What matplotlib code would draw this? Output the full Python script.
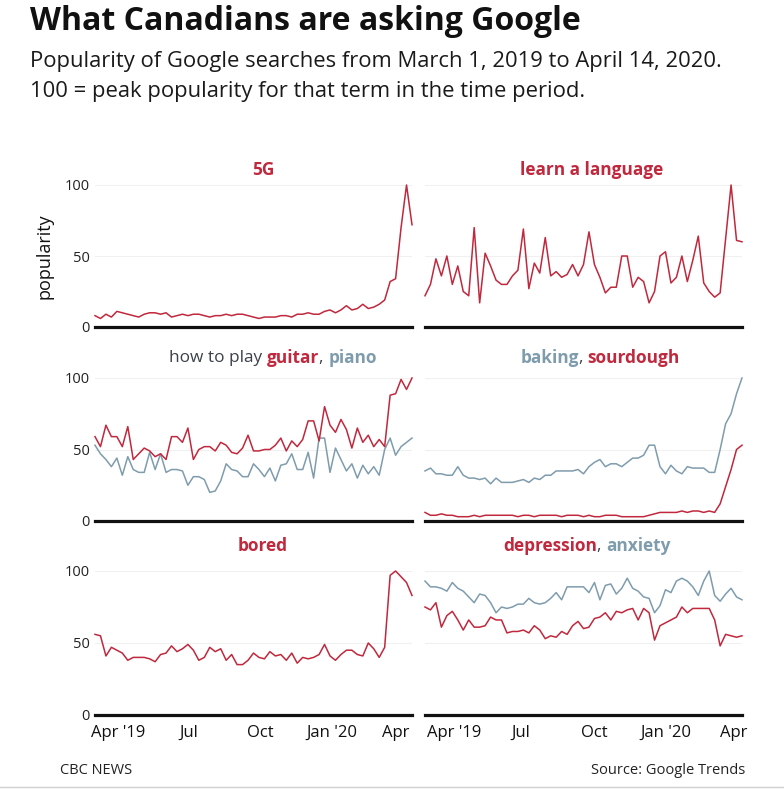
import matplotlib
matplotlib.use("Agg")
import matplotlib.pyplot as plt
import matplotlib.transforms as mtransforms
import pandas as pd
import numpy as np

plt.rcParams['font.family'] = ['Open Sans', 'DejaVu Sans']

# ---------------- data (weekly, Google Trends, Canada) ----------------
dates = pd.date_range('2019-03-03', periods=59, freq='W-SUN')

fiveg = [8, 6, 9, 7, 11, 10, 9, 8, 7, 9, 10, 10, 9, 10, 7, 8, 9, 8, 9, 9,
         8, 7, 8, 8, 9, 8, 9, 9, 8, 7, 6, 7, 7, 7, 8, 8, 7, 9, 9, 10,
         9, 9, 11, 12, 10, 12, 15, 12, 13, 16, 13, 14, 16, 19, 32, 34, 70, 100, 72]

learn_language = [22, 30, 48, 36, 50, 30, 43, 25, 22, 70, 17, 52, 43, 33, 30, 30, 36, 40, 69, 27,
                  45, 38, 63, 36, 39, 35, 37, 44, 36, 44, 67, 44, 35, 24, 28, 28, 50, 50, 28, 35,
                  32, 17, 25, 50, 53, 31, 35, 50, 32, 47, 64, 31, 25, 21, 24, 62, 100, 61, 60]

guitar = [59, 52, 67, 59, 59, 52, 66, 43, 47, 51, 49, 45, 47, 43, 59, 59, 55, 65, 43, 50,
          52, 52, 49, 55, 53, 48, 47, 51, 60, 49, 49, 50, 50, 53, 58, 49, 56, 52, 57, 70,
          70, 56, 80, 67, 62, 71, 64, 51, 65, 55, 60, 52, 57, 52, 88, 89, 99, 92, 100]

piano = [53, 47, 43, 38, 44, 32, 45, 36, 34, 34, 48, 36, 47, 34, 36, 36, 35, 25, 31, 31,
         29, 20, 21, 28, 40, 36, 35, 31, 31, 40, 36, 31, 37, 28, 39, 40, 47, 36, 36, 48,
         30, 58, 58, 34, 51, 43, 35, 40, 30, 39, 33, 38, 32, 50, 58, 46, 52, 55, 58]

baking = [35, 37, 33, 33, 32, 32, 38, 32, 30, 30, 29, 30, 26, 30, 27, 27, 27, 28, 29, 27,
          30, 29, 32, 32, 35, 35, 35, 35, 36, 33, 38, 41, 43, 38, 40, 40, 38, 41, 44, 44,
          46, 53, 53, 38, 33, 39, 35, 33, 38, 37, 37, 37, 34, 34, 50, 68, 75, 89, 100]

sourdough = [6, 4, 4, 5, 4, 4, 3, 3, 3, 4, 3, 4, 4, 4, 4, 4, 4, 3, 4, 4,
             3, 4, 4, 4, 4, 3, 4, 4, 4, 3, 4, 3, 3, 4, 4, 4, 3, 3, 3, 3,
             3, 4, 5, 6, 6, 6, 6, 7, 6, 7, 7, 6, 7, 6, 12, 24, 36, 50, 53]

bored = [56, 55, 41, 47, 45, 43, 38, 40, 40, 40, 39, 37, 42, 43, 48, 44, 46, 49, 45, 38,
         40, 47, 44, 46, 38, 42, 35, 35, 38, 43, 40, 39, 44, 41, 42, 38, 43, 36, 40, 39,
         40, 42, 49, 41, 38, 42, 45, 45, 42, 41, 50, 46, 40, 47, 97, 100, 96, 92, 83]

anxiety = [93, 89, 89, 88, 86, 92, 88, 86, 82, 78, 84, 83, 78, 71, 75, 74, 75, 77, 77, 81,
           78, 77, 78, 81, 85, 80, 89, 89, 89, 89, 85, 92, 80, 90, 91, 84, 88, 95, 88, 86,
           82, 81, 71, 76, 87, 85, 93, 95, 93, 89, 83, 93, 100, 83, 79, 84, 88, 82, 80]

depression = [75, 73, 78, 61, 69, 72, 66, 59, 66, 61, 61, 62, 68, 66, 66, 57, 58, 58, 59, 57,
              62, 59, 53, 55, 54, 58, 56, 62, 65, 60, 61, 67, 68, 71, 66, 72, 71, 73, 74, 66,
              74, 71, 52, 62, 64, 66, 68, 75, 71, 74, 74, 74, 74, 66, 48, 56, 55, 54, 55]

tick_dates = ['2019-04-01', '2019-07-01', '2019-10-01', '2020-01-01', '2020-04-01']
tick_labels = ["Apr '19", "Jul", "Oct", "Jan '20", "Apr"]

RED = '#c0283d'
BLUE = '#7f9cad'
DARK = '#3b4148'

W, H = 784, 789
fig = plt.figure(figsize=(W / 100, H / 100), dpi=100)
fig.patch.set_facecolor('white')


def fx(px):
    return px / W


def fy(py):
    return 1 - py / H


# title & subtitle
fig.text(fx(30), fy(22), "What Canadians are asking Google", fontsize=23,
         fontweight='bold', color='#111111', va='center', ha='left')
fig.text(fx(30), fy(62), "Popularity of Google searches from March 1, 2019 to April 14, 2020.",
         fontsize=15.8, color='#1a1a1a', va='center', ha='left')
fig.text(fx(30), fy(91), "100 = peak popularity for that term in the time period.",
         fontsize=15.8, color='#1a1a1a', va='center', ha='left')

# panel geometry (pixels)
cols = [(95, 412), (425, 742)]
rows = [(185, 327), (378, 521), (571, 715)]

panels = [
    [(fiveg, RED)],
    [(learn_language, RED)],
    [(piano, BLUE), (guitar, RED)],
    [(baking, BLUE), (sourdough, RED)],
    [(bored, RED)],
    [(anxiety, BLUE), (depression, RED)],
]

titles = [
    [("5G", RED, 'bold')],
    [("learn a language", RED, 'bold')],
    [("how to play ", DARK, 'normal'), ("guitar", RED, 'bold'), (", ", DARK, 'normal'), ("piano", BLUE, 'bold')],
    [("baking", BLUE, 'bold'), (", ", DARK, 'normal'), ("sourdough", RED, 'bold')],
    [("bored", RED, 'bold')],
    [("depression", RED, 'bold'), (", ", DARK, 'normal'), ("anxiety", BLUE, 'bold')],
]
title_centers = [263, 592, 273, 600, 263, 587]
title_ys = [170, 170, 358, 358, 546, 546]

axes = []
for i in range(6):
    r, c = divmod(i, 2)
    x0, x1 = cols[c]
    y0, y1 = rows[r]
    ax = fig.add_axes([fx(x0), fy(y1), (x1 - x0) / W, (y1 - y0) / H])
    axes.append(ax)
    for vals, col in panels[i]:
        ax.plot(dates, vals, color=col, lw=1.1, clip_on=False, zorder=3)
    ax.set_xlim(dates[0], dates[-1])
    ax.set_ylim(0, 100)
    for s in ['top', 'right', 'left']:
        ax.spines[s].set_visible(False)
    ax.spines['bottom'].set_linewidth(2.3)
    ax.spines['bottom'].set_color('#111111')
    ax.spines['bottom'].set_zorder(4)
    ax.set_yticks([0, 50, 100])
    ax.yaxis.grid(True, color='#f0f0f0', lw=0.8)
    ax.set_axisbelow(True)
    ax.tick_params(axis='both', length=0)
    if c == 0:
        ax.set_yticklabels(['0', '50', '100'], fontsize=10.5, color='#222222')
        ax.tick_params(axis='y', pad=4)
    else:
        ax.set_yticklabels([])
    ax.set_xticks(pd.to_datetime(tick_dates))
    if r == 2:
        ax.set_xticklabels(tick_labels, fontsize=12, color='#111111')
        ax.tick_params(axis='x', pad=7)
        labs = ax.get_xticklabels()
        if c == 0:
            labs[-1].set_transform(labs[-1].get_transform() +
                                   mtransforms.ScaledTranslation(-8 / 100, 0, fig.dpi_scale_trans))
        else:
            for lab, dx in zip(labs, [6, 2, 4, 4, 0]):
                lab.set_transform(lab.get_transform() +
                                  mtransforms.ScaledTranslation(dx / 100, 0, fig.dpi_scale_trans))
    else:
        ax.set_xticklabels([])

axes[0].set_ylabel("popularity", fontsize=13, color='#111111', labelpad=8)

# multicolored panel titles
renderer = fig.canvas.get_renderer()


def text_width(s, weight, size):
    t1 = fig.text(0, 0, "|" + s + "|", fontsize=size, fontweight=weight)
    t2 = fig.text(0, 0, "||", fontsize=size, fontweight=weight)
    w = t1.get_window_extent(renderer).width - t2.get_window_extent(renderer).width
    t1.remove()
    t2.remove()
    return w


TS = 12.4
for parts, cx, cy in zip(titles, title_centers, title_ys):
    widths = [text_width(s, wgt, TS) for s, col, wgt in parts]
    total = sum(widths)
    x = cx - total / 2
    for (s, col, wgt), w in zip(parts, widths):
        fig.text(fx(x), fy(cy), s, fontsize=TS, fontweight=wgt, color=col,
                 ha='left', va='center')
        x += w

# footer
fig.text(fx(60), fy(771), "CBC NEWS", fontsize=10.5, color='#222222', ha='left', va='center')
fig.text(fx(745), fy(771), "Source: Google Trends", fontsize=10.5, color='#222222',
         ha='right', va='center')
fig.add_artist(plt.Line2D([0, 1], [fy(787), fy(787)], color='#d0d0d0', lw=1,
                          transform=fig.transFigure))

fig.savefig("out.png", dpi=100, facecolor='white')
